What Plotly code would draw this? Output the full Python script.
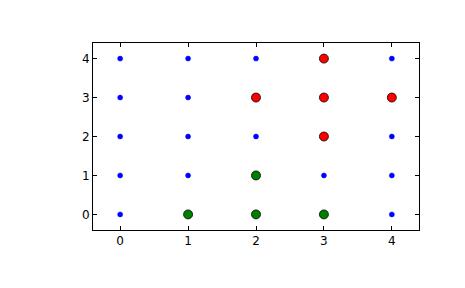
import plotly.graph_objects as go

grid_x = [0, 1, 2, 3, 4]
grid_y = [0, 1, 2, 3, 4]
red_x = [2, 3, 3, 3, 4]
red_y = [3, 4, 3, 2, 3]
green_x = [1, 2, 2, 3]
green_y = [0, 0, 1, 0]
tick_vals = [0, 1, 2, 3, 4]

bx = [x for x in grid_x for y in grid_y]
by = [y for x in grid_x for y in grid_y]

fig = go.Figure()
fig.add_trace(go.Scatter(x=bx, y=by, mode="markers",
                         marker=dict(color="#0000ff", size=5, line=dict(color="#0000ff", width=0.5))))
fig.add_trace(go.Scatter(x=red_x, y=red_y, mode="markers",
                         marker=dict(color="#ff0000", size=9, line=dict(color="black", width=0.8))))
fig.add_trace(go.Scatter(x=green_x, y=green_y, mode="markers",
                         marker=dict(color="#008000", size=9, line=dict(color="black", width=0.8))))

axis_common = dict(showgrid=False, zeroline=False, showline=True, linecolor="black", linewidth=1,
                   mirror="ticks", ticks="inside", ticklen=4, tickcolor="black", tickwidth=1,
                   tickvals=tick_vals, tickfont=dict(family="DejaVu Sans", size=12, color="black"))

fig.update_layout(
    width=465, height=288,
    margin=dict(l=93, r=46, t=43, b=58),
    paper_bgcolor="white", plot_bgcolor="white",
    showlegend=False,
    xaxis=dict(range=[-0.4, 4.4], **axis_common),
    yaxis=dict(range=[-0.4, 4.4], **axis_common),
)
fig.write_html("out.html")
